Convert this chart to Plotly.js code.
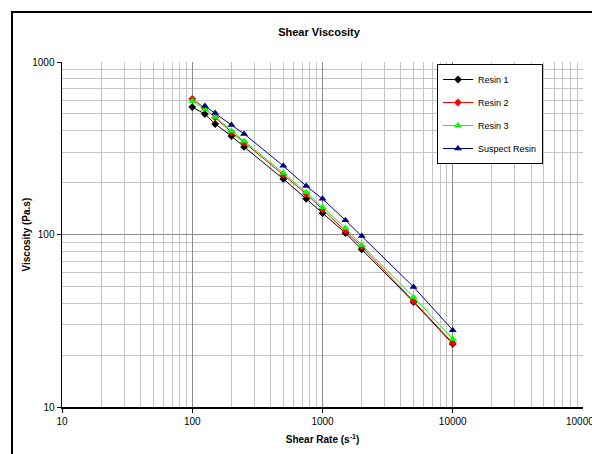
<!DOCTYPE html>
<html>
<head>
<meta charset="utf-8">
<script src="https://cdn.plot.ly/plotly-3.0.1.min.js"></script>
<style>
html,body{margin:0;padding:0;background:#fff;}
#chart{width:592px;height:454px;}
</style>
</head>
<body>
<div id="chart"></div>
<script>
// Data
const shearRate = [100, 125, 150, 200, 250, 500, 750, 1000, 1500, 2000, 5000, 10000];
const suspectRate = [125, 150, 200, 250, 500, 750, 1000, 1500, 2000, 5000, 10000];
const resin1 = [548, 499, 437, 372, 322, 210, 161, 133, 102, 82, 40.6, 23.2];
const resin2 = [612, 540, 476, 392, 342, 222, 172, 140, 105, 85, 41.1, 23.5];
const resin3 = [594, 534, 480, 398, 348, 227, 176, 144, 109, 87, 43.4, 24.8];
const suspect = [556, 506, 431, 383, 250, 191, 161, 121, 98, 49.7, 27.9];
const seriesNames = ["Resin 1", "Resin 2", "Resin 3", "Suspect Resin"];
const xTickVals = [10, 100, 1000, 10000];
const xTickText = ["10", "100", "1000", "10000"];
const xEdgeLabel = "100000";
const yTickVals = [10, 100, 1000];
const yTickText = ["10", "100", "1000"];

function minorVals(lo, hi) {
  const out = [];
  for (let d = lo; d < hi; d *= 10) for (let k = 2; k <= 9; k++) out.push(d * k);
  return out;
}

const font = "Liberation Sans, Arial, sans-serif";
const traces = [
  {x: shearRate, y: resin1, name: seriesNames[0], mode: "lines+markers", legendgroup: "a",
   line: {color: "#000000", width: 1}, marker: {symbol: "diamond", size: 6, color: "#000000"}},
  {x: shearRate, y: resin2, name: seriesNames[1], mode: "lines+markers", legendgroup: "b",
   line: {color: "#ff0000", width: 1}, marker: {symbol: "diamond", size: 6, color: "#ff0000"}},
  {x: shearRate, y: resin3, name: seriesNames[2], mode: "lines+markers", legendgroup: "c",
   line: {color: "#00ff00", width: 1}, marker: {symbol: "triangle-up", size: 7, color: "#00ff00"}},
  {x: suspectRate, y: suspect, name: seriesNames[3], mode: "lines+markers", legendgroup: "d",
   line: {color: "#000080", width: 1}, marker: {symbol: "triangle-up", size: 7, color: "#000080"}}
];

const layout = {
  width: 592, height: 454,
  margin: {l: 62, r: 9, t: 62, b: 47},
  paper_bgcolor: "#ffffff", plot_bgcolor: "#ffffff",
  font: {family: font, size: 10, color: "#000"},
  showlegend: true,
  title: {text: "<b>Shear Viscosity</b>", font: {family: font, size: 11, color: "#000"},
          x: (319 - 62) / 521, xanchor: "center", y: 1 - 32/454, yanchor: "middle", xref: "paper", yref: "container"},
  xaxis: {
    type: "log", range: [1, 5], tickmode: "array", tickvals: xTickVals, ticktext: xTickText,
    showgrid: true, gridcolor: "#8c8c8c", gridwidth: 1,
    showline: true, linecolor: "#000", linewidth: 1.5, ticks: "outside", ticklen: 4, tickcolor: "#000",
    tickfont: {family: font, size: 10, color: "#000"}, zeroline: false,
    minor: {tickmode: "array", tickvals: minorVals(10, 100000), showgrid: true, gridcolor: "#c4c4c4", gridwidth: 1, ticks: ""},
    title: {text: "<b>Shear Rate (s<sup>-1</sup>)</b>", font: {family: font, size: 10, color: "#000"}, standoff: 10}
  },
  yaxis: {
    type: "log", range: [1, 3], tickmode: "array", tickvals: yTickVals, ticktext: yTickText,
    showgrid: true, gridcolor: "#8c8c8c", gridwidth: 1,
    showline: true, linecolor: "#000", linewidth: 1.5, ticks: "outside", ticklen: 4, tickcolor: "#000",
    tickfont: {family: font, size: 10, color: "#000"}, zeroline: false,
    minor: {tickmode: "array", tickvals: minorVals(10, 1000), showgrid: true, gridcolor: "#c4c4c4", gridwidth: 1, ticks: ""}
  },
  legend: {
    x: (437 - 62) / 521, xanchor: "left", y: 1 - 2/345, yanchor: "top",
    bgcolor: "#ffffff", bordercolor: "#000", borderwidth: 1,
    font: {family: font, size: 9, color: "#000"}, tracegroupgap: 4, itemwidth: 30
  },
  annotations: [
    {text: "<b>Viscosity (Pa.s)</b>", xref: "paper", yref: "paper", x: (26 - 62) / 521, y: 0.5,
     textangle: -90, showarrow: false, xanchor: "center", yanchor: "middle",
     font: {family: font, size: 10, color: "#000"}},
    {text: xEdgeLabel, xref: "x", yref: "paper", x: 5, y: -(420 - 407 - 6) / 345,
     showarrow: false, xanchor: "center", yanchor: "top", font: {family: font, size: 10, color: "#000"}}
  ],
  shapes: [
    {type: "rect", xref: "paper", yref: "paper",
     x0: (12 - 62) / 521, x1: 1.2, y0: -0.5, y1: 1 + (62 - 12) / 345,
     line: {color: "#000", width: 2}, fillcolor: "rgba(0,0,0,0)", layer: "below"}
  ]
};

Plotly.newPlot("chart", traces, layout, {staticPlot: true, displayModeBar: false});
</script>
</body>
</html>
